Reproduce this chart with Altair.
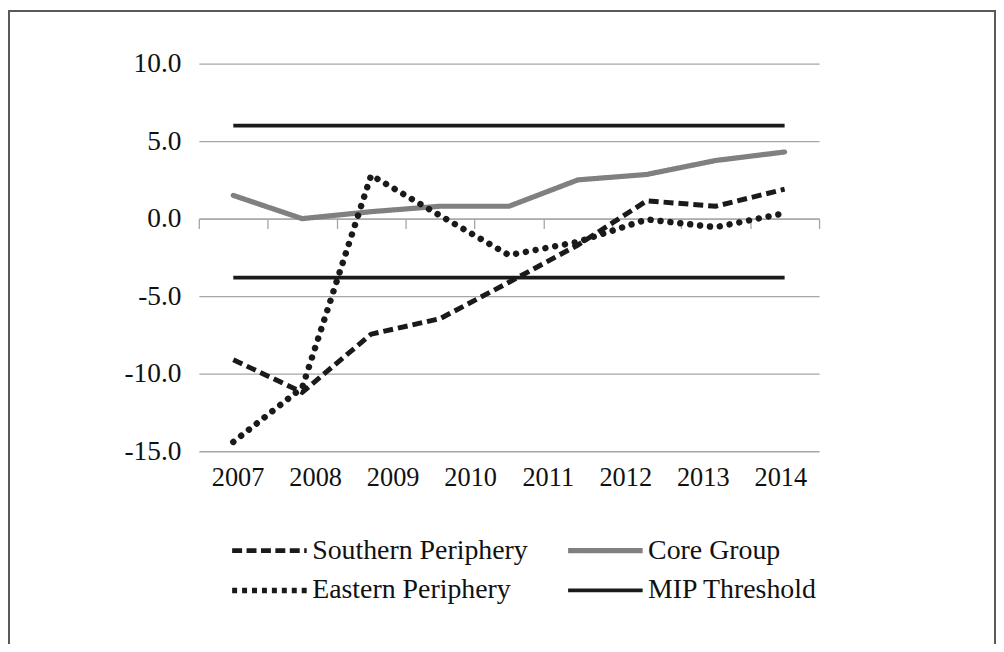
import json
import altair as alt
import pandas as pd

# ---------------- data ----------------
YEARS = ["2007", "2008", "2009", "2010", "2011", "2012", "2013", "2014"]
SLOT = [0, 1, 2, 3, 4, 5, 6, 7, 8]
CORE = [1.5, 0.0, 0.45, 0.8, 0.8, 2.5, 2.85, 3.75, 4.3]
SOUTHERN = [-9.1, -11.2, -7.45, -6.45, -4.1, -1.7, 1.15, 0.8, 1.9]
EASTERN = [-14.4, -10.9, 2.8, 0.2, -2.35, -1.5, -0.05, -0.55, 0.35]
MIP_SLOT = [0, 8]
MIP_UPPER = [6.0, 6.0]
MIP_LOWER = [-3.8, -3.8]
Y_TICKS = [-15, -10, -5, 0, 5, 10]

# legend order is column-major: Southern / Eastern in column 1, Core / MIP in column 2
SERIES = ["Southern Periphery", "Eastern Periphery", "Core Group", "MIP Threshold"]
COLORS = ["#1a1a1a", "#1a1a1a", "#808080", "#1a1a1a"]
LEGEND_DASHES = [[10, 4.5], [5, 5], [1, 0], [1, 0]]
WIDTHS = [5, 5.5, 5.2, 3.8]
SOUTH_DASH = [10, 5]
EAST_DOTS = [0.01, 10]
EAST_LINE_WIDTH = 6.5

FONT = "Liberation Serif, Times New Roman, serif"
TEXT = "#111111"
GRID = "#a6a6a6"
N_SLOTS = len(SLOT)
PLOT_W, PLOT_H = 624, 390
Y_DOMAIN = [-15, 10]

# ---------------- tables ----------------
def series_frame(name, slots, values, part="a"):
    return pd.DataFrame({"x": [s + 0.5 for s in slots], "value": values,
                         "series": name, "part": part})

core_df = series_frame("Core Group", SLOT, CORE)
south_df = series_frame("Southern Periphery", SLOT, SOUTHERN)
east_df = series_frame("Eastern Periphery", SLOT, EASTERN)
mip_df = pd.concat([series_frame("MIP Threshold", MIP_SLOT, MIP_UPPER, "upper"),
                    series_frame("MIP Threshold", MIP_SLOT, MIP_LOWER, "lower")])

# ---------------- shared encodings ----------------
x_scale = alt.Scale(domain=[0, N_SLOTS], nice=False, zero=False)
y_scale = alt.Scale(domain=Y_DOMAIN, nice=False, zero=False)

y_axis = alt.Axis(values=Y_TICKS,
                  labelExpr="(datum.value < 0 ? '-' : '') + format(abs(datum.value), '.1f')",
                  grid=True, gridColor=GRID, gridWidth=1.3, ticks=False, domain=False,
                  labelFont=FONT, labelFontSize=27.5, labelColor=TEXT,
                  labelPadding=18, title=None)

zero_from_bottom = PLOT_H * (0 - Y_DOMAIN[0]) / (Y_DOMAIN[1] - Y_DOMAIN[0])
tick_axis = alt.Axis(values=list(range(N_SLOTS + 1)), labels=False, ticks=True,
                     tickSize=10, tickColor=GRID, tickWidth=1.3,
                     domain=True, domainColor=GRID, domainWidth=1.3,
                     grid=False, title=None, orient="bottom", offset=-zero_from_bottom)

label_axis = alt.Axis(values=[(k + 0.5) * N_SLOTS / len(YEARS) for k in range(len(YEARS))],
                      labelExpr="{}[round(datum.value * {} / {} - 0.5)]".format(
                          json.dumps(YEARS), len(YEARS), N_SLOTS),
                      ticks=False, domain=False, grid=False, title=None, orient="bottom",
                      labelFont=FONT, labelFontSize=26.5, labelColor=TEXT,
                      labelPadding=13)

legend = alt.Legend(
    title=None, orient="none", legendX=57, legendY=476, columns=2,
    symbolType="M-5,0H5", symbolSize=225,
    labelFont=FONT, labelFontSize=28, labelColor=TEXT,
    labelOffset=29, labelLimit=500, columnPadding=30, rowPadding=12,
)


def enc(x_axis, dash=True):
    e = dict(
        x=alt.X("x:Q", scale=x_scale, axis=x_axis),
        y=alt.Y("value:Q", scale=y_scale, axis=y_axis),
        color=alt.Color("series:N", scale=alt.Scale(domain=SERIES, range=COLORS), legend=legend),
        strokeWidth=alt.StrokeWidth("series:N",
                                    scale=alt.Scale(type="ordinal", domain=SERIES, range=WIDTHS),
                                    legend=legend),
        detail="part:N",
    )
    if dash:
        e["strokeDash"] = alt.StrokeDash("series:N", scale=alt.Scale(domain=SERIES, range=LEGEND_DASHES),
                                         legend=legend)
    return e


mip = alt.Chart(mip_df).mark_line(strokeCap="butt").encode(**enc(label_axis))
core = alt.Chart(core_df).mark_line(strokeCap="round", strokeJoin="round").encode(**enc(tick_axis))
south = alt.Chart(south_df).mark_line(strokeCap="butt", strokeJoin="miter",
                                      strokeDash=SOUTH_DASH).encode(**enc(None, dash=False))
east_enc = enc(None, dash=False)
east_enc["strokeWidth"] = alt.value(EAST_LINE_WIDTH)
east = alt.Chart(east_df).mark_line(strokeCap="round", strokeJoin="round",
                                    strokeDash=EAST_DOTS).encode(**east_enc)

frame = alt.Chart(pd.DataFrame({"f": [0]})).mark_rect(
    fillOpacity=0, stroke="#595959", strokeWidth=2
).encode(x=alt.value(-191), x2=alt.value(801), y=alt.value(-53), y2=alt.value(700))

chart = (
    alt.layer(frame, mip, core, south, east)
    .resolve_axis(x="independent")
    .properties(width=PLOT_W, height=PLOT_H,
                autosize=alt.AutoSizeParams(type="none"),
                padding={"left": 192, "top": 54, "right": 178, "bottom": 192},
                background="white")
    .configure_view(strokeWidth=0)
)

chart.save("out.html", embed_options={"renderer": "svg", "actions": False})
